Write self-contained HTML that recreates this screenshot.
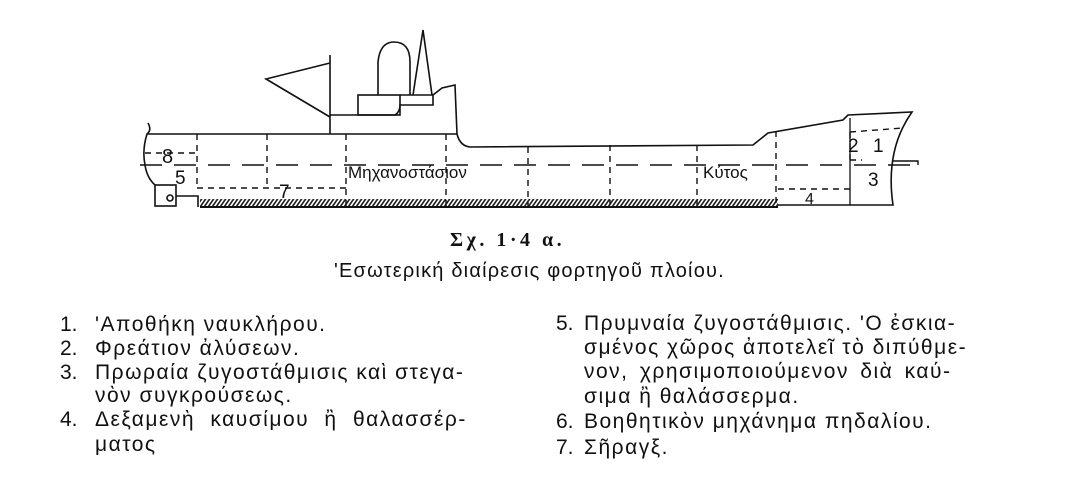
<!DOCTYPE html>
<html><head><meta charset="utf-8"><style>
body{margin:0;width:1080px;height:480px;background:#fff;overflow:hidden;position:relative;font-family:"Liberation Sans","DejaVu Sans",sans-serif;color:#111}
.t{position:absolute;font-size:21px;white-space:nowrap;letter-spacing:1.5px;line-height:22px}
.n{position:absolute;font-size:21px;line-height:22px}
</style></head><body>
<svg width="1080" height="230" style="position:absolute;left:0;top:0" stroke="#111" fill="none" stroke-width="1.6">
<defs><pattern id="h" width="4" height="8" patternUnits="userSpaceOnUse" patternTransform="skewX(-35)"><rect width="4" height="8" fill="#fff" stroke="none"/><rect width="2" height="8" fill="#222" stroke="none"/></pattern></defs>
<rect x="200" y="199" width="578" height="8" fill="url(#h)" stroke="none"/>
<path d="M148 123 Q152 130 147 134 Q142 150 145 165 Q147 178 155 185"/>
<path d="M147 134 L457 134 Q460 146 470 147 L753 145 L768 133 L843 120 L848 115 L912 112 Q885 150 893 205 L778 205"/>
<path d="M200 207 L778 207" stroke-width="2"/>
<rect x="155" y="185" width="21" height="21"/>
<circle cx="170" cy="198" r="3"/>
<path d="M176 196 L198 196 L198 207"/>
<path d="M330 55 L330 134"/>
<path d="M330 63 L266 79 L330 117"/>
<path d="M330 115 L395 115 Q400 112 400 105 L433 105 L433 95 L442 88 L455 85 L457 134"/>
<rect x="358" y="95" width="42" height="20"/>
<path d="M400 95 L433 95"/>
<path d="M378 95 L378 62 Q380 42 394 42 Q410 42 410 62 L410 95"/>
<path d="M413 95 L423 30 L432 95"/>
<g stroke-dasharray="6,5" stroke-width="1.4">
<path d="M197 134 V188 M267 134 V188 M346 134 V207 M446 134 V207 M528 147 V207 M610 145 V205 M697 145 V205 M776 131 V205"/>
<path d="M197 188 H346 M145 153 H197 M778 189 H850 M850 132 L903 128 M850 132 V160 M850 160 H862"/>
</g>
<path d="M850 118 V205" stroke-width="1.3"/>
<path d="M140 165 H918" stroke-dasharray="22,12" stroke-width="1.4"/>
<path d="M893 161 H918 V165" stroke-width="1.4"/>
<g fill="#111" stroke="none" font-family="Liberation Sans,DejaVu Sans,sans-serif">
<text x="162" y="163" font-size="20">8</text>
<text x="175" y="184" font-size="19">5</text>
<text x="279" y="198" font-size="19">7</text>
<text x="348" y="178" font-size="17">Μηχανοστάσιον</text>
<text x="703" y="178" font-size="17">Κύτος</text>
<text x="848" y="152" font-size="19">2</text>
<text x="873" y="152" font-size="19">1</text>
<text x="868" y="186" font-size="19">3</text>
<text x="805" y="204" font-size="16">4</text>
</g>
</svg>
<div style="position:absolute;left:450px;top:229px;font-family:'Liberation Serif',serif;font-weight:bold;font-size:20px;letter-spacing:3.5px">Σχ. 1·4 α.</div>
<div style="position:absolute;left:334px;top:260px;font-size:20px;letter-spacing:1.2px">'Εσωτερική διαίρεσις φορτηγοῦ πλοίου.</div>
<div class="n" style="left:60px;top:314px">1.</div><div class="t" style="left:95px;top:314px">'Αποθήκη ναυκλήρου.</div>
<div class="n" style="left:60px;top:338px">2.</div><div class="t" style="left:95px;top:338px">Φρεάτιον ἀλύσεων.</div>
<div class="n" style="left:60px;top:362px">3.</div><div class="t" style="left:95px;top:362px">Πρωραία ζυγοστάθμισις καὶ στεγα-</div>
<div class="t" style="left:95px;top:385px">νὸν συγκρούσεως.</div>
<div class="n" style="left:60px;top:409px">4.</div><div class="t" style="left:95px;top:409px;word-spacing:8px">Δεξαμενὴ καυσίμου ἢ θαλασσέρ-</div>
<div class="t" style="left:95px;top:434px">ματος</div>
<div class="n" style="left:556px;top:313px">5.</div><div class="t" style="left:584px;top:313px">Πρυμναία ζυγοστάθμισις. 'Ο ἐσκια-</div>
<div class="t" style="left:584px;top:337px">σμένος χῶρος ἀποτελεῖ τὸ διπύθμε-</div>
<div class="t" style="left:584px;top:361px;word-spacing:4px">νον, χρησιμοποιούμενον διὰ καύ-</div>
<div class="t" style="left:584px;top:386px">σιμα ἢ θαλάσσερμα.</div>
<div class="n" style="left:556px;top:411px">6.</div><div class="t" style="left:584px;top:411px">Βοηθητικὸν μηχάνημα πηδαλίου.</div>
<div class="n" style="left:556px;top:437px">7.</div><div class="t" style="left:584px;top:437px">Σῆραγξ.</div>
</body></html>
